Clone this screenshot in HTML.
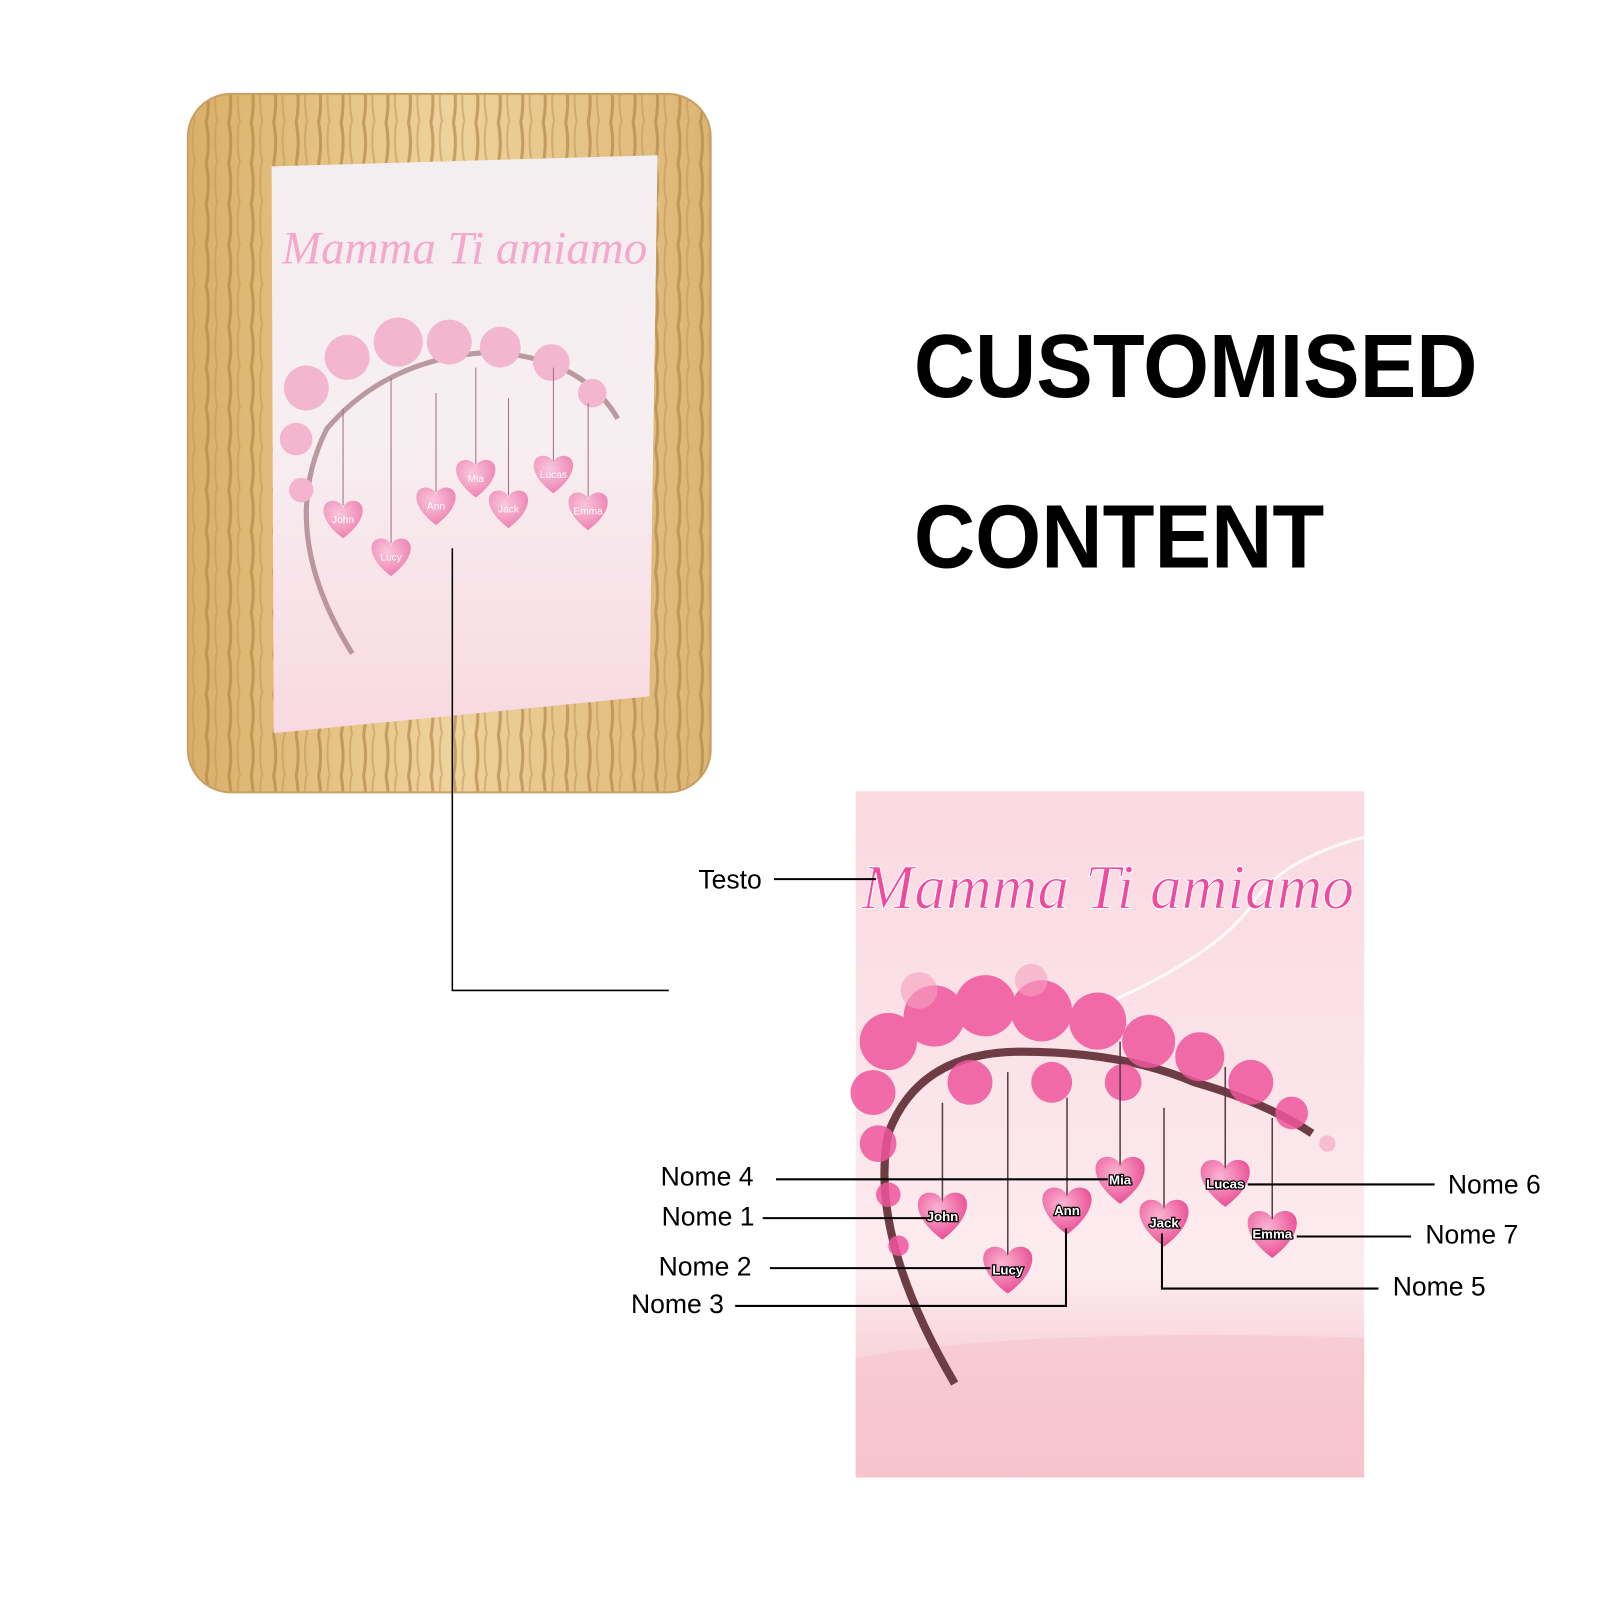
<!DOCTYPE html>
<html><head><meta charset="utf-8"><style>
html,body{margin:0;padding:0;background:#fff;width:1600px;height:1600px;overflow:hidden}
svg{display:block}
</style></head><body>
<svg width="1600" height="1600" viewBox="0 0 1567 1567" xmlns="http://www.w3.org/2000/svg">
<defs>
<linearGradient id="wood" x1="0" y1="0" x2="1" y2="0">
<stop offset="0" stop-color="#d9b069"/><stop offset="0.5" stop-color="#efd39c"/><stop offset="1" stop-color="#dcb573"/>
</linearGradient>
<pattern id="grain" width="22" height="40" patternUnits="userSpaceOnUse">
<path d="M4 0 Q8 20 4 40" stroke="#b5884a" stroke-width="3" fill="none" opacity="0.7"/>
<path d="M14 0 Q11 20 15 40" stroke="#c49a5c" stroke-width="2" fill="none" opacity="0.6"/>
</pattern>
<linearGradient id="pk" x1="0" y1="0" x2="0" y2="1">
<stop offset="0" stop-color="#fbd9e1"/><stop offset="0.45" stop-color="#fbe4ea"/><stop offset="0.7" stop-color="#fcecef"/><stop offset="0.85" stop-color="#f8cfd8"/><stop offset="1" stop-color="#f7c1cd"/>
</linearGradient>
<linearGradient id="pk2" x1="0" y1="0" x2="0" y2="1">
<stop offset="0" stop-color="#f3eef0"/><stop offset="0.5" stop-color="#f7eef1"/><stop offset="1" stop-color="#f8d9e1"/>
</linearGradient>
<radialGradient id="hg" cx="0.4" cy="0.35" r="0.7">
<stop offset="0" stop-color="#fbb6d3"/><stop offset="1" stop-color="#e8468f"/>
</radialGradient>
<path id="heart" d="M0,24 C-30,2 -29,-21 -13,-22 C-5,-22 0,-17 0,-12 C0,-17 5,-22 13,-22 C29,-21 30,2 0,24Z"/>
</defs>

<rect x="184" y="92" width="512" height="684" rx="42" fill="url(#wood)"/>
<rect x="184" y="92" width="512" height="684" rx="42" fill="url(#grain)"/>
<rect x="184" y="92" width="512" height="684" rx="42" fill="none" stroke="#c9a064" stroke-width="2"/>
<polygon points="266,163 644,152 636,682 268,718" fill="url(#pk2)"/>
<text x="455" y="258" text-anchor="middle" font-family="Liberation Serif,serif" font-style="italic" font-size="46" fill="#f4a9cc">Mamma Ti amiamo</text>
<g opacity="0.55">
<path d="M345,640 Q270,520 320,420 Q380,350 480,345 Q570,350 605,410" stroke="#8a5560" stroke-width="5" fill="none"/>
<g fill="#f08ab4">
<circle cx="300" cy="380" r="22"/><circle cx="340" cy="350" r="22"/><circle cx="390" cy="335" r="24"/><circle cx="440" cy="335" r="22"/><circle cx="490" cy="340" r="20"/><circle cx="540" cy="355" r="18"/><circle cx="580" cy="385" r="14"/><circle cx="290" cy="430" r="16"/><circle cx="295" cy="480" r="12"/>
</g></g>
<g stroke="#a07080" stroke-width="1">
<line x1="336" y1="400" x2="336" y2="495"/><line x1="383" y1="370" x2="383" y2="532"/><line x1="427" y1="385" x2="427" y2="482"/><line x1="466" y1="360" x2="466" y2="455"/><line x1="498" y1="390" x2="498" y2="485"/><line x1="542" y1="360" x2="542" y2="452"/><line x1="576" y1="395" x2="576" y2="487"/>
</g>
<g fill="url(#hg)" opacity="0.65">
<use href="#heart" transform="translate(336,508) scale(0.8)"/><use href="#heart" transform="translate(383,545) scale(0.8)"/><use href="#heart" transform="translate(427,495) scale(0.8)"/><use href="#heart" transform="translate(466,468) scale(0.8)"/><use href="#heart" transform="translate(498,498) scale(0.8)"/><use href="#heart" transform="translate(542,464) scale(0.8)"/><use href="#heart" transform="translate(576,500) scale(0.8)"/>
</g>
<g fill="#fff" font-family="Liberation Sans,sans-serif" font-size="10" text-anchor="middle">
<text x="336" y="512">John</text><text x="383" y="549">Lucy</text><text x="427" y="499">Ann</text><text x="466" y="472">Mia</text><text x="498" y="502">Jack</text><text x="542" y="468">Lucas</text><text x="576" y="504">Emma</text>
</g>

<text x="895" y="389" font-family="Liberation Sans,sans-serif" font-weight="bold" font-size="88" fill="#000" textLength="552" lengthAdjust="spacingAndGlyphs">CUSTOMISED</text>
<text x="895" y="556" font-family="Liberation Sans,sans-serif" font-weight="bold" font-size="88" fill="#000" textLength="402" lengthAdjust="spacingAndGlyphs">CONTENT</text>

<polyline points="443,537 443,970 655,970" fill="none" stroke="#000" stroke-width="1.5"/>

<rect x="838" y="775" width="498" height="672" fill="url(#pk)"/>
<path d="M838,1330 Q1000,1300 1336,1310 L1336,1447 L838,1447Z" fill="#f7c4cf" opacity="0.6"/>
<path d="M1090,980 Q1200,930 1230,880 Q1260,840 1336,820" stroke="#fff" stroke-width="3" fill="none" opacity="0.8"/>
<text x="1085" y="890" text-anchor="middle" font-family="Liberation Serif,serif" font-style="italic" font-size="62" fill="#ee4a9e" stroke="#fff" stroke-width="1">Mamma Ti amiamo</text>
<path d="M935,1355 Q850,1210 870,1110 Q900,1030 1000,1030 Q1100,1030 1170,1060 Q1240,1080 1285,1110" stroke="#6e3c45" stroke-width="8" fill="none"/>
<g fill="#f0569d" opacity="0.85">
<circle cx="870" cy="1020" r="28"/><circle cx="915" cy="995" r="30"/><circle cx="965" cy="985" r="30"/><circle cx="1020" cy="990" r="30"/><circle cx="1075" cy="1000" r="28"/><circle cx="1125" cy="1020" r="26"/><circle cx="1175" cy="1035" r="24"/><circle cx="1225" cy="1060" r="22"/><circle cx="1265" cy="1090" r="16"/><circle cx="855" cy="1070" r="22"/><circle cx="860" cy="1120" r="18"/><circle cx="950" cy="1060" r="22"/><circle cx="1030" cy="1060" r="20"/><circle cx="1100" cy="1060" r="18"/><circle cx="870" cy="1170" r="12"/><circle cx="880" cy="1220" r="10"/>
</g>
<g fill="#f7a0c0" opacity="0.6"><circle cx="900" cy="970" r="18"/><circle cx="1010" cy="960" r="16"/><circle cx="1300" cy="1120" r="8"/></g>
<g stroke="#5a3a44" stroke-width="1.5">
<line x1="923" y1="1080" x2="923" y2="1180"/><line x1="987" y1="1050" x2="987" y2="1230"/><line x1="1045" y1="1075" x2="1045" y2="1175"/><line x1="1097" y1="1020" x2="1097" y2="1145"/><line x1="1140" y1="1085" x2="1140" y2="1187"/><line x1="1200" y1="1045" x2="1200" y2="1148"/><line x1="1246" y1="1095" x2="1246" y2="1198"/>
</g>
<g fill="url(#hg)">
<use href="#heart" transform="translate(923,1190)"/><use href="#heart" transform="translate(987,1243)"/><use href="#heart" transform="translate(1045,1185)"/><use href="#heart" transform="translate(1097,1155)"/><use href="#heart" transform="translate(1140,1197)"/><use href="#heart" transform="translate(1200,1158)"/><use href="#heart" transform="translate(1246,1208)"/>
</g>
<g fill="#fff" stroke="#000" stroke-width="2.5" paint-order="stroke" font-family="Liberation Sans,sans-serif" font-weight="bold" font-size="13" text-anchor="middle">
<text x="923" y="1196">John</text><text x="987" y="1248">Lucy</text><text x="1045" y="1190">Ann</text><text x="1097" y="1160">Mia</text><text x="1140" y="1202">Jack</text><text x="1200" y="1164">Lucas</text><text x="1246" y="1213">Emma</text>
</g>

<g stroke="#000" stroke-width="2" fill="none">
<line x1="758" y1="861" x2="858" y2="861"/>
<line x1="760" y1="1155" x2="1085" y2="1155"/>
<line x1="747" y1="1193" x2="910" y2="1193"/>
<line x1="754" y1="1242" x2="970" y2="1242"/>
<polyline points="720,1279 1044,1279 1044,1203"/>
<line x1="1222" y1="1160" x2="1405" y2="1160"/>
<line x1="1270" y1="1211" x2="1382" y2="1211"/>
<polyline points="1138,1208 1138,1262 1350,1262"/>
</g>
<g font-family="Liberation Sans,sans-serif" font-size="26" fill="#000">
<text x="684" y="870">Testo</text>
<text x="647" y="1161">Nome 4</text>
<text x="648" y="1200">Nome 1</text>
<text x="645" y="1249">Nome 2</text>
<text x="618" y="1286">Nome 3</text>
<text x="1418" y="1169">Nome 6</text>
<text x="1396" y="1218">Nome 7</text>
<text x="1364" y="1269">Nome 5</text>
</g>
</svg>
</body></html>
